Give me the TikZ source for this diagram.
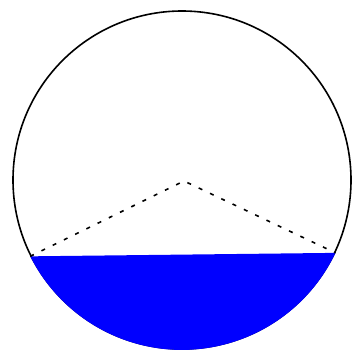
\documentclass[tikz,border=0pt]{standalone}
\begin{document}
\begin{tikzpicture}[x=1pt,y=-1pt,
  rim/.style={draw=black,line width=1.6pt},
  dashline/.style={draw=black,line width=1.6pt,dash pattern=on 4pt off 8.5pt},
  water/.style={fill=blue}]
\useasboundingbox[fill=white] (0,0) rectangle (352,351);
\coordinate (c) at (182,180);
\coordinate (apex) at (184,181);
\draw[rim] (c) circle[radius=169];
\coordinate (R) at ([shift={(25.4:169.9)}]c);
\coordinate (L) at ([shift={(153.3:169.9)}]c);
\fill[water] (R) arc[start angle=25.4, end angle=153.3, radius=169.9] -- cycle;
\draw[dashline] (L) -- (apex) -- (R);
\end{tikzpicture}
\end{document}
